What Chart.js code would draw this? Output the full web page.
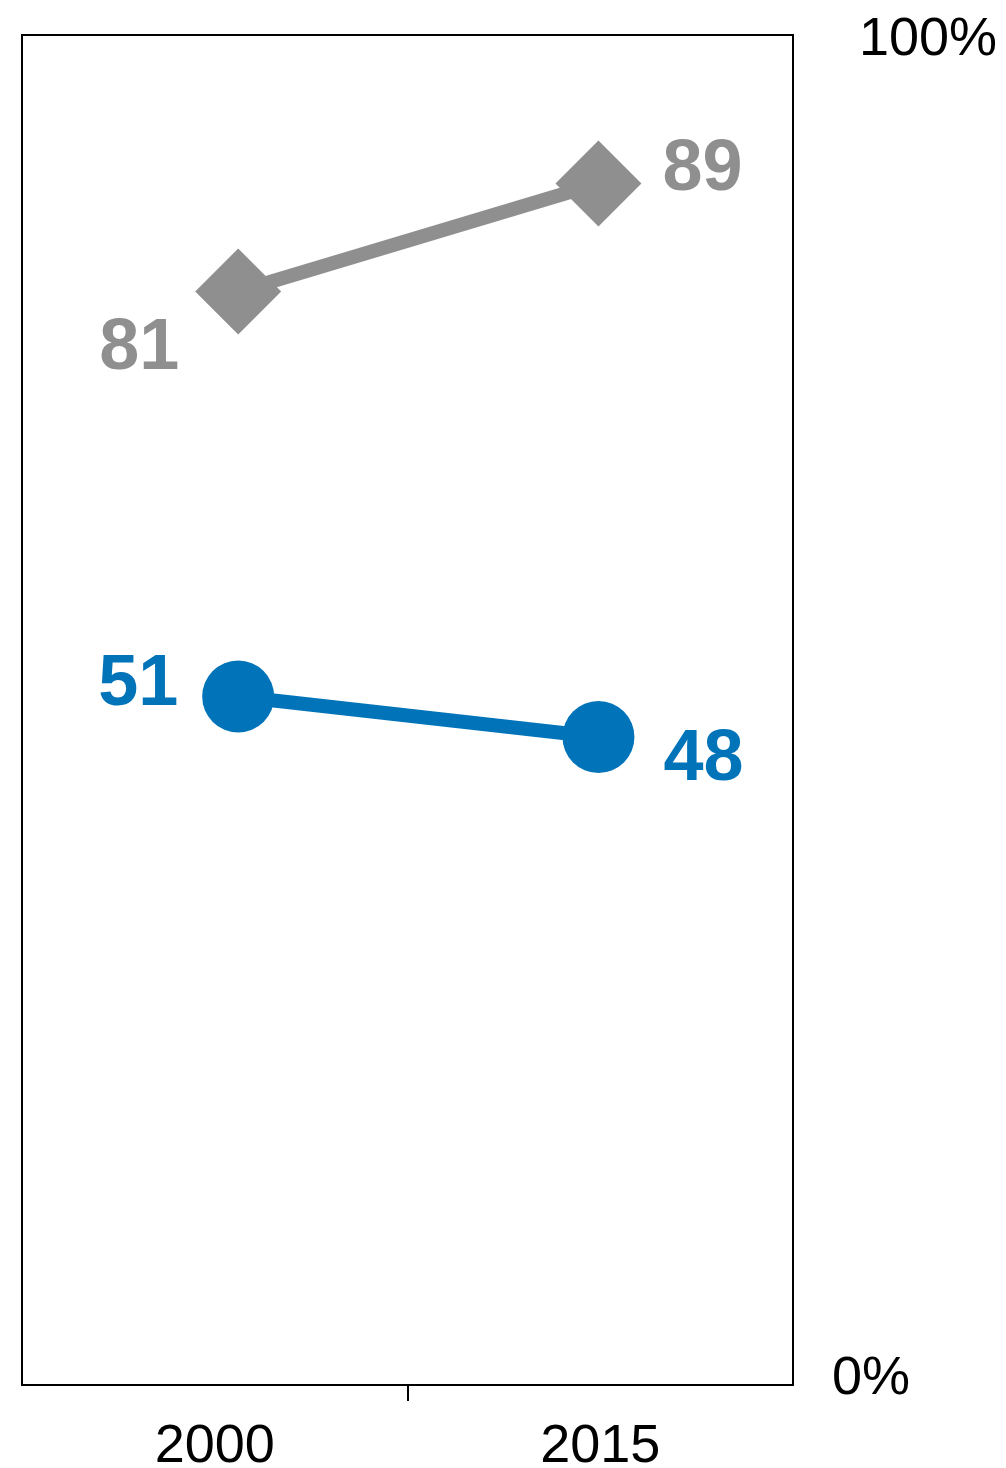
<!DOCTYPE html>
<html>
<head>
<meta charset="utf-8">
<script src="https://cdn.jsdelivr.net/npm/chart.js@4.4.0/dist/chart.umd.min.js"></script>
<style>
	html, body { margin: 0; padding: 0; background: #fff; }
	#wrap { width: 1006px; height: 1468px; }
</style>
</head>
<body>
<div id="wrap"><canvas id="chart" width="1006" height="1468"></canvas></div>
<script>
// data
const years = ['2000', '2015'];
const grayValues = [81, 89];
const blueValues = [51, 48];
const yTicks = [0, 100];

const GRAY = '#8f8f8f';
const BLUE = '#0073b9';
const FONT = '"Liberation Sans", Arial, sans-serif';

// label offsets from each point: [dx, dy to baseline]
const grayLabelOffsets = [[-99, 77], [104, 6]];
const blueLabelOffsets = [[-100, 8], [105, 43]];

const toPoints = vals => vals.map((v, i) => ({x: i, y: v}));

const frame = {
	id: 'frame',
	afterDatasetsDraw(chart) {
		const {ctx, chartArea: a} = chart;
		ctx.save();
		ctx.strokeStyle = '#000';
		ctx.lineWidth = 2;
		ctx.strokeRect(a.left, a.top, a.right - a.left, a.bottom - a.top);
		ctx.restore();
	}
};

const valueLabels = {
	id: 'valueLabels',
	afterDatasetsDraw(chart) {
		const ctx = chart.ctx;
		ctx.save();
		ctx.font = 'bold 72px ' + FONT;
		ctx.textAlign = 'center';
		ctx.textBaseline = 'alphabetic';
		chart.data.datasets.forEach((ds, di) => {
			const meta = chart.getDatasetMeta(di);
			ctx.fillStyle = ds.borderColor;
			meta.data.forEach((pt, i) => {
				const off = ds.labelOffsets[i];
				ctx.fillText(String(ds.data[i].y), pt.x + off[0], pt.y + off[1]);
			});
		});
		ctx.restore();
	}
};

const yLabels = {
	id: 'yLabels',
	afterDraw(chart) {
		const ctx = chart.ctx;
		const y = chart.scales.y;
		ctx.save();
		ctx.font = '54px ' + FONT;
		ctx.fillStyle = '#000';
		ctx.textAlign = 'left';
		ctx.textBaseline = 'alphabetic';
		// 100% sits a little higher than 0%
		ctx.fillText(yTicks[1] + '%', 859, y.getPixelForValue(yTicks[1]) + 20);
		ctx.fillText(yTicks[0] + '%', 832, y.getPixelForValue(yTicks[0]) + 9);
		ctx.restore();
	}
};

new Chart(document.getElementById('chart'), {
	type: 'line',
	data: {
		labels: years,
		datasets: [
			{
				data: toPoints(grayValues),
				xAxisID: 'xd',
				borderColor: GRAY,
				backgroundColor: GRAY,
				borderWidth: 14,
				pointStyle: 'rectRot',
				pointRadius: 43,
				pointBorderWidth: 0,
				labelOffsets: grayLabelOffsets
			},
			{
				data: toPoints(blueValues),
				xAxisID: 'xd',
				borderColor: BLUE,
				backgroundColor: BLUE,
				borderWidth: 14,
				pointStyle: 'circle',
				pointRadius: 36,
				pointBorderWidth: 0,
				labelOffsets: blueLabelOffsets
			}
		]
	},
	options: {
		responsive: false,
		animation: false,
		events: [],
		layout: { autoPadding: false, padding: { left: 22, top: 35, right: 213, bottom: 0 } },
		plugins: { legend: { display: false }, tooltip: { enabled: false } },
		scales: {
			x: {
				type: 'category',
				position: 'bottom',
				offset: true,
				afterFit: (scale) => { scale.height = 83; },
				grid: {
					offset: true,
					drawOnChartArea: false,
					tickLength: 16,
					lineWidth: 2,
					color: (c) => c.index === 1 ? '#000' : 'rgba(0,0,0,0)'
				},
				border: { display: false },
				ticks: { font: { family: FONT, size: 54 }, color: '#000', padding: 14, maxRotation: 0 }
			},
			xd: {
				type: 'linear',
				display: false,
				min: -0.6,
				max: 1.54
			},
			y: {
				display: false,
				min: 0,
				max: 100
			}
		}
	},
	plugins: [frame, valueLabels, yLabels]
});
</script>
</body>
</html>
